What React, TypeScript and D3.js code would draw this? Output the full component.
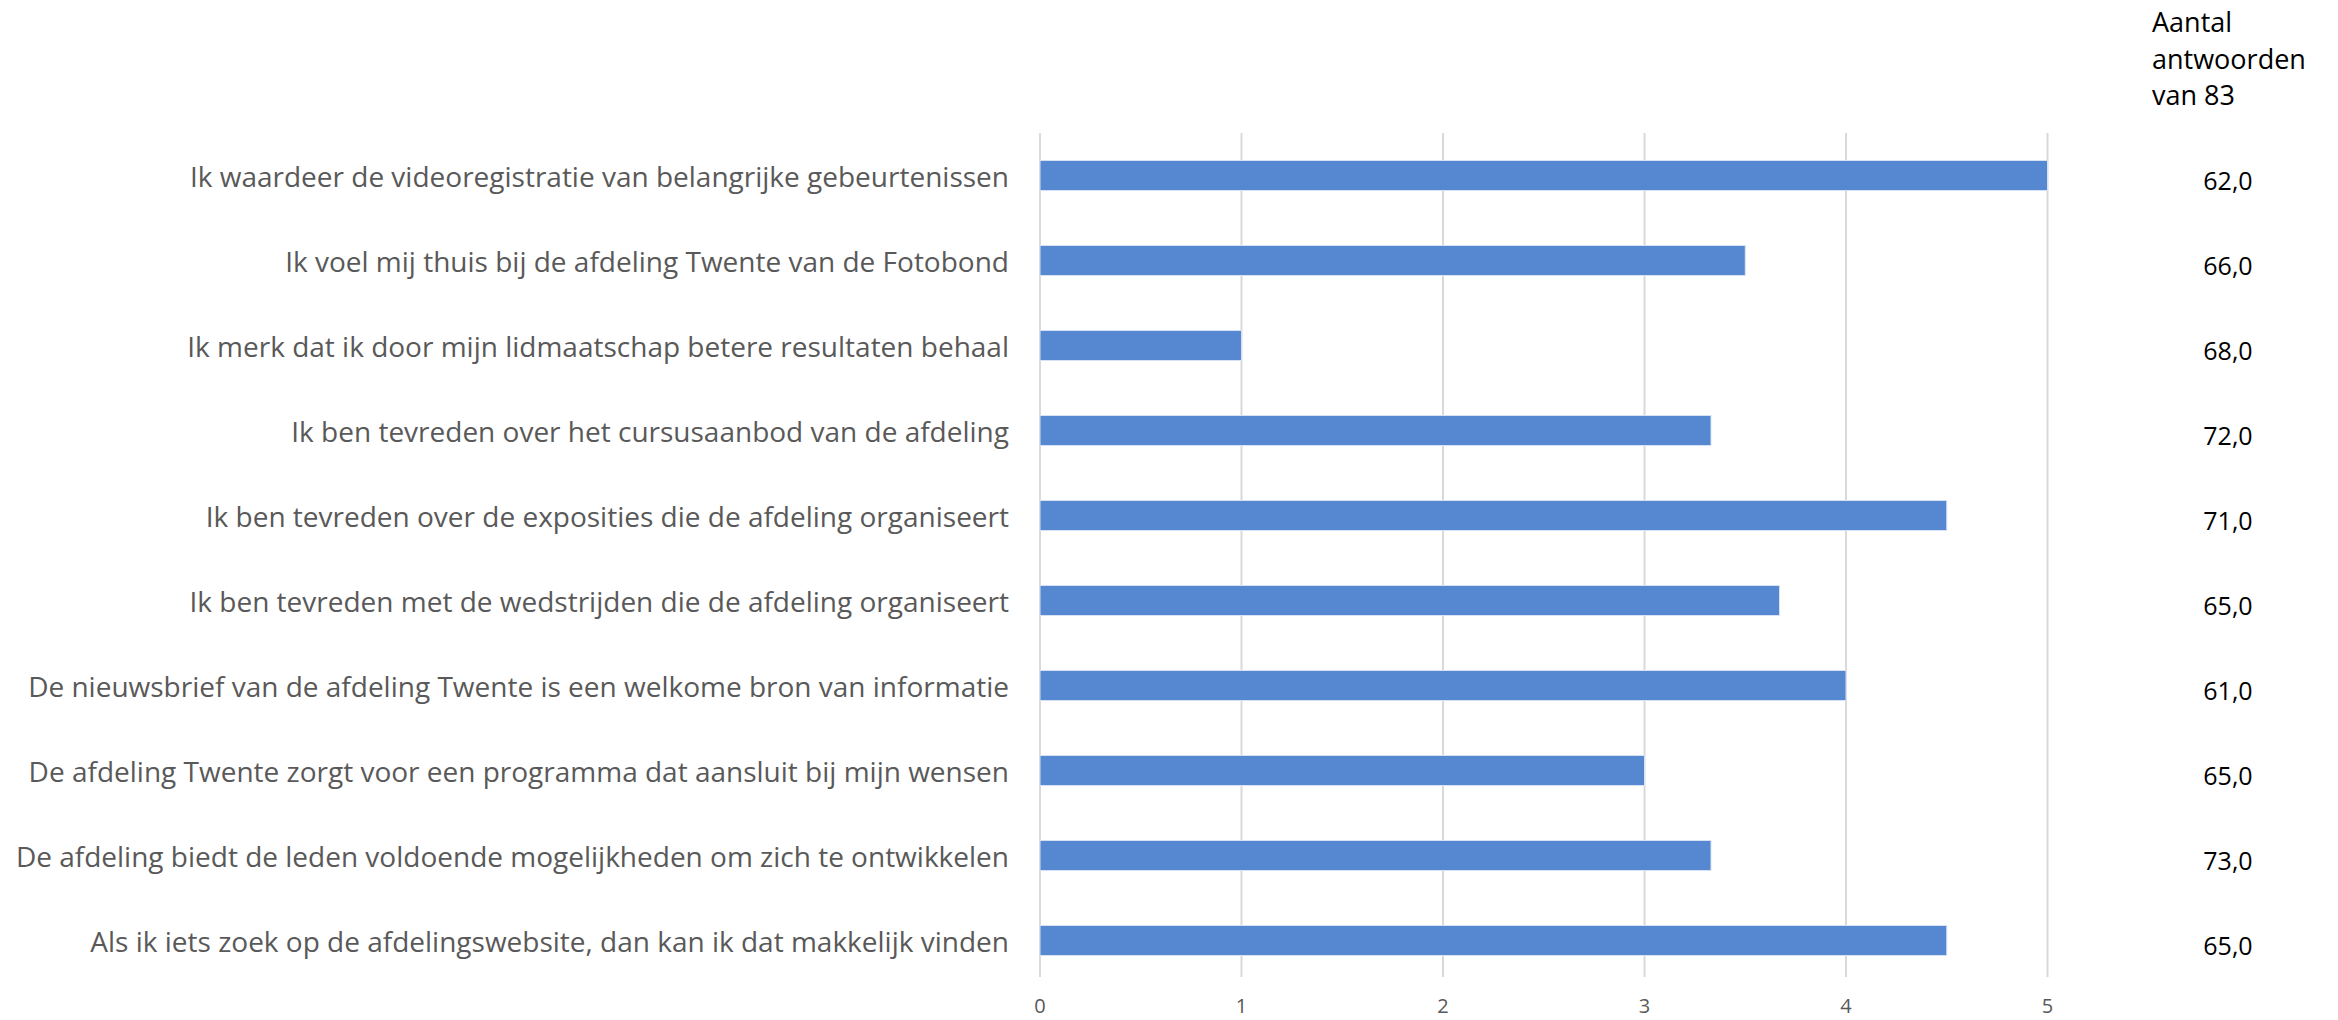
import React from "react";
import * as d3 from "d3";

const categories = [
  "Ik waardeer de videoregistratie van belangrijke gebeurtenissen",
  "Ik voel mij thuis bij de afdeling Twente van de Fotobond",
  "Ik merk dat ik door mijn lidmaatschap betere resultaten behaal",
  "Ik ben tevreden over het cursusaanbod van de afdeling",
  "Ik ben tevreden over de exposities die de afdeling organiseert",
  "Ik ben tevreden met de wedstrijden die de afdeling organiseert",
  "De nieuwsbrief van de afdeling Twente is een welkome bron van informatie",
  "De afdeling Twente zorgt voor een programma dat aansluit bij mijn wensen",
  "De afdeling biedt de leden voldoende mogelijkheden om zich te ontwikkelen",
  "Als ik iets zoek op de afdelingswebsite, dan kan ik dat makkelijk vinden",
];
const scores = [5, 3.5, 1, 3.33, 4.5, 3.67, 4, 3, 3.33, 4.5];
const answerCounts = ["62,0", "66,0", "68,0", "72,0", "71,0", "65,0", "61,0", "65,0", "73,0", "65,0"];
const xTicks = [0, 1, 2, 3, 4, 5];
const headerLines = ["Aantal", "antwoorden", "van 83"];

const W = 2338;
const H = 1020;
const FONT = "'Open Sans', 'Noto Sans', sans-serif";

export default function App() {
  const x = d3.scaleLinear().domain([0, 5]).range([1040, 2047.5]);
  const y = d3.scaleBand<string>().domain(categories).range([133, 983]).paddingInner(0.647).paddingOuter(0.3235);
  const gridTop = 133;
  const gridBottom = 977;
  return (
    <svg width={W} height={H} style={{ position: "absolute", left: 0, top: 0, background: "#fff" }}>
      <rect width={W} height={H} fill="#fff" />
      {xTicks.map((t) => (
        <line key={t} x1={x(t)} x2={x(t)} y1={gridTop} y2={gridBottom} stroke="#d9d9d9" strokeWidth={2} />
      ))}
      {categories.map((c, i) => (
        <rect
          key={c}
          x={x(0)}
          y={y(c)!}
          width={x(scores[i]) - x(0)}
          height={y.bandwidth()}
          fill="#5588d0"
          stroke="#d6e1f3"
          strokeWidth={1}
        />
      ))}
      {categories.map((c) => (
        <text
          key={"l" + c}
          x={1009}
          y={y(c)! + y.bandwidth() / 2 + 1}
          dy="0.36em"
          textAnchor="end"
          fontFamily={FONT}
          fontSize={28}
          fill="#595959"
        >
          {c}
        </text>
      ))}
      {xTicks.map((t) => (
        <text key={"t" + t} x={x(t)} y={1006} dy="0.35em" textAnchor="middle" fontFamily={FONT} fontSize={20} fill="#595959">
          {t}
        </text>
      ))}
      {categories.map((c, i) => (
        <text
          key={"n" + c}
          x={2228}
          y={y(c)! + y.bandwidth() / 2 + 5}
          dy="0.36em"
          textAnchor="middle"
          fontFamily={FONT}
          fontSize={25}
          fill="#000"
        >
          {answerCounts[i]}
        </text>
      ))}
      {headerLines.map((h, i) => (
        <text key={h} x={2152} y={32 + i * 36.5} fontFamily={FONT} fontSize={27} fill="#000">
          {h}
        </text>
      ))}
    </svg>
  );
}
